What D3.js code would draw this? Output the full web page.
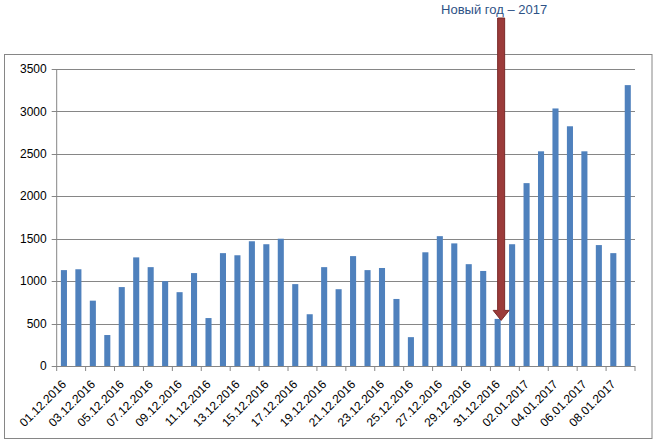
<!DOCTYPE html>
<html>
<head>
<meta charset="utf-8">
<script src="https://cdn.jsdelivr.net/npm/d3@7/dist/d3.min.js"></script>
<style>
    body { margin: 0; background: #fff; }
    text { font-family: "Liberation Sans", Arial, sans-serif; }
</style>
</head>
<body>
<svg id="chart" width="660" height="444"></svg>
<script>
// daily values, 01.12.2016 - 09.01.2017
var dates = [
    "01.12.2016", "02.12.2016", "03.12.2016", "04.12.2016", "05.12.2016",
    "06.12.2016", "07.12.2016", "08.12.2016", "09.12.2016", "10.12.2016",
    "11.12.2016", "12.12.2016", "13.12.2016", "14.12.2016", "15.12.2016",
    "16.12.2016", "17.12.2016", "18.12.2016", "19.12.2016", "20.12.2016",
    "21.12.2016", "22.12.2016", "23.12.2016", "24.12.2016", "25.12.2016",
    "26.12.2016", "27.12.2016", "28.12.2016", "29.12.2016", "30.12.2016",
    "31.12.2016", "01.01.2017", "02.01.2017", "03.01.2017", "04.01.2017",
    "05.01.2017", "06.01.2017", "07.01.2017", "08.01.2017", "09.01.2017"
];
var visits = [
    1130, 1140, 770, 365, 930, 1280, 1165, 1000, 870, 1095,
    565, 1330, 1305, 1470, 1435, 1500, 965, 610, 1165, 905,
    1295, 1130, 1155, 790, 340, 1340, 1530, 1445, 1200, 1120,
    555, 1435, 2155, 2530, 3035, 2825, 2530, 1425, 1330, 3310
];
var yTicks = [0, 500, 1000, 1500, 2000, 2500, 3000, 3500];
var note = "Новый год – 2017";
var noteDate = "31.12.2016";

(function () {
    "use strict";
    var svg = d3.select("#chart");
    var plotLeft = 56.7, plotRight = 635, plotTop = 69, plotBottom = 366;

    // chart frame
    svg.append("rect")
        .attr("x", 4.5).attr("y", 54.5)
        .attr("width", 647.5).attr("height", 384)
        .attr("fill", "#fff").attr("stroke", "#868686");

    var x = d3.scaleBand().domain(dates).range([plotLeft, plotRight])
        .paddingInner(0.58).paddingOuter(0.29);
    var y = d3.scaleLinear().domain([0, 3500]).range([plotBottom, plotTop]);

    // gridlines + y ticks
    svg.append("g").selectAll("line").data(yTicks).enter().append("line")
        .attr("x1", plotLeft - 5).attr("x2", plotRight)
        .attr("y1", function (d) { return Math.round(y(d)) + 0.5; })
        .attr("y2", function (d) { return Math.round(y(d)) + 0.5; })
        .attr("stroke", "#868686");

    svg.append("g").selectAll("text").data(yTicks).enter().append("text")
        .attr("x", plotLeft - 10)
        .attr("y", function (d) { return y(d); })
        .attr("dy", "0.35em")
        .attr("text-anchor", "end")
        .attr("font-size", 12)
        .attr("fill", "#000")
        .text(function (d) { return d; });

    // bars
    svg.append("g").selectAll("rect").data(visits).enter().append("rect")
        .attr("x", function (d, i) { return x(dates[i]); })
        .attr("y", function (d) { return y(d); })
        .attr("width", x.bandwidth())
        .attr("height", function (d) { return plotBottom - y(d); })
        .attr("fill", "#4F81BD");

    // axis lines
    svg.append("line").attr("x1", plotLeft).attr("x2", plotLeft)
        .attr("y1", plotTop).attr("y2", plotBottom)
        .attr("stroke", "#868686");
    svg.append("line").attr("x1", plotLeft).attr("x2", plotRight)
        .attr("y1", plotBottom + 0.5).attr("y2", plotBottom + 0.5)
        .attr("stroke", "#868686");

    // x ticks every second category boundary, labels on odd days
    var step = x.step();
    var tickIdx = d3.range(0, dates.length + 1, 2);
    svg.append("g").selectAll("line").data(tickIdx).enter().append("line")
        .attr("x1", function (k) { return plotLeft + k * step; })
        .attr("x2", function (k) { return plotLeft + k * step; })
        .attr("y1", plotBottom).attr("y2", plotBottom + 5)
        .attr("stroke", "#868686");

    var labelDates = dates.filter(function (d, i) { return i % 2 === 0; });
    svg.append("g").selectAll("text").data(labelDates).enter().append("text")
        .attr("transform", function (d) {
            return "translate(" + (x(d) + x.bandwidth() / 2 - 3) + "," + (plotBottom + 13) + ") rotate(-45)";
        })
        .attr("text-anchor", "end")
        .attr("dy", "0.71em")
        .attr("font-size", 12)
        .attr("fill", "#000")
        .text(function (d) { return d; });

    // new year arrow
    var ax = x(noteDate) + x.bandwidth() / 2 + 3.5;
    var tip = y(visits[dates.indexOf(noteDate)]) + 1.5;
    var arrow = d3.path();
    arrow.moveTo(ax - 3.5, 18);
    arrow.lineTo(ax + 3.5, 18);
    arrow.lineTo(ax + 3.5, tip - 10);
    arrow.lineTo(ax + 8, tip - 10);
    arrow.lineTo(ax, tip);
    arrow.lineTo(ax - 8, tip - 10);
    arrow.lineTo(ax - 3.5, tip - 10);
    arrow.closePath();
    svg.append("path").attr("d", arrow.toString())
        .attr("fill", "#9B3B3A").attr("stroke", "#7A2A29").attr("stroke-width", 1);

    svg.append("text")
        .attr("x", ax - 7).attr("y", 14)
        .attr("text-anchor", "middle")
        .attr("font-size", 13)
        .attr("fill", "#2E5286")
        .text(note);
})();
</script>
</body>
</html>
